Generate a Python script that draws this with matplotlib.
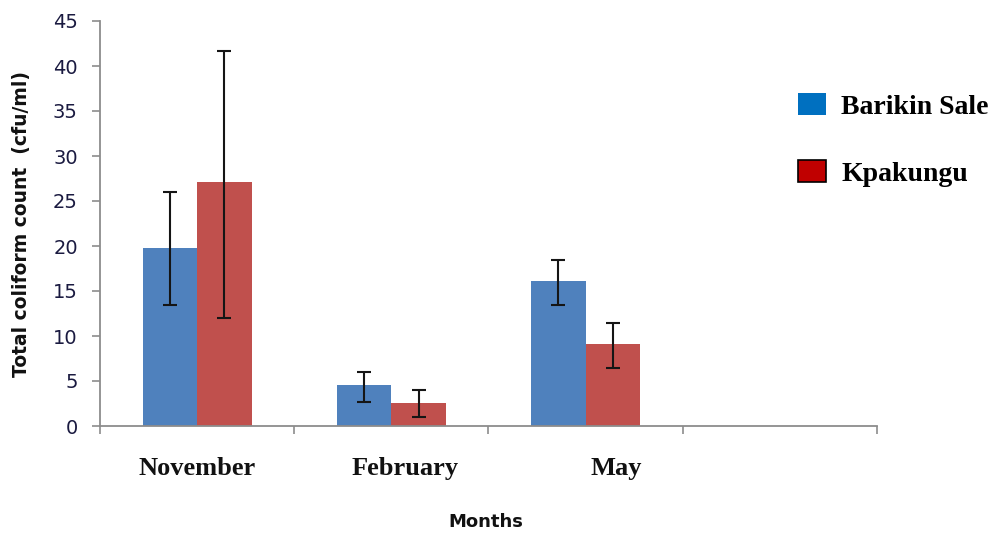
import matplotlib
matplotlib.use("Agg")
import matplotlib.pyplot as plt
from matplotlib.patches import Patch
import numpy as np

# Data
months = ["November", "February", "May"]
series_names = ["Barikin Sale", "Kpakungu"]
barikin = [19.8, 4.6, 16.1]
barikin_err_low = [6.3, 1.9, 2.6]
barikin_err_high = [6.2, 1.4, 2.4]
kpakungu = [27.1, 2.6, 9.1]
kpakungu_err_low = [15.1, 1.6, 2.6]
kpakungu_err_high = [14.6, 1.4, 2.4]
y_ticks = list(range(0, 50, 5))

bar_blue = "#4F81BD"
bar_red = "#C0504D"
legend_blue = "#0070C0"
legend_red = "#C00000"
axis_grey = "#8C8C8C"

fig = plt.figure(figsize=(9.95, 5.35), dpi=100)
ax = fig.add_axes([100 / 995, 1 - 426 / 535, 777 / 995, 405 / 535])

x = np.arange(len(months))
w = 0.28
ax.bar(x - w / 2, barikin, width=w, color=bar_blue, zorder=2)
ax.bar(x + w / 2, kpakungu, width=w, color=bar_red, zorder=2)
ax.errorbar(x - w / 2, barikin, yerr=[barikin_err_low, barikin_err_high],
            fmt="none", ecolor="#151515", elinewidth=1.5, capsize=5,
            capthick=1.5, zorder=3)
ax.errorbar(x + w / 2, kpakungu, yerr=[kpakungu_err_low, kpakungu_err_high],
            fmt="none", ecolor="#151515", elinewidth=1.5, capsize=5,
            capthick=1.5, zorder=3)

ax.set_xlim(-0.5, 3.5)
ax.set_ylim(0, 45)
ax.set_yticks(y_ticks)
ax.set_yticklabels([str(t) for t in y_ticks], fontsize=14,
                   fontfamily="DejaVu Sans", color="#1a1a40")

# Category boundary ticks, labels placed on minor ticks
ax.set_xticks(np.arange(-0.5, 4.0, 1.0))
ax.set_xticklabels([])
label_pos = [0.0, 1.07, 2.16]
ax.set_xticks(label_pos, minor=True)
ax.set_xticklabels(months, minor=True, fontsize=19, fontweight="bold",
                   fontfamily="Liberation Serif", color="#111111")
ax.tick_params(axis="x", which="minor", length=0, pad=22)
ax.tick_params(axis="x", which="major", length=6, width=1.2, color=axis_grey)
ax.tick_params(axis="y", length=6, width=1.2, color=axis_grey, pad=10)

for side in ["top", "right"]:
    ax.spines[side].set_visible(False)
for side in ["left", "bottom"]:
    ax.spines[side].set_color(axis_grey)
    ax.spines[side].set_linewidth(1.3)

fig.text(486 / 995, 1 - 522 / 535, "Months", ha="center", va="center",
         fontsize=13, fontweight="bold", fontfamily="DejaVu Sans",
         color="#111111")
fig.text(22 / 995, 1 - 224 / 535, "Total coliform count  (cfu/ml)",
         rotation=90, ha="center", va="center", fontsize=13.5,
         fontweight="bold", fontfamily="DejaVu Sans", color="#111111")

handles = [Patch(facecolor=legend_blue, edgecolor="none"),
           Patch(facecolor=legend_red, edgecolor="black", linewidth=1.2)]
fig.legend(handles, series_names, loc="upper left",
           bbox_to_anchor=(798 / 995, 1 - 93 / 535), frameon=False,
           borderpad=0, borderaxespad=0, handlelength=1.0, handleheight=0.85,
           handletextpad=0.55, labelspacing=1.45,
           prop={"family": "Liberation Serif", "weight": "bold", "size": 20})

fig.savefig("out.png", dpi=100)
